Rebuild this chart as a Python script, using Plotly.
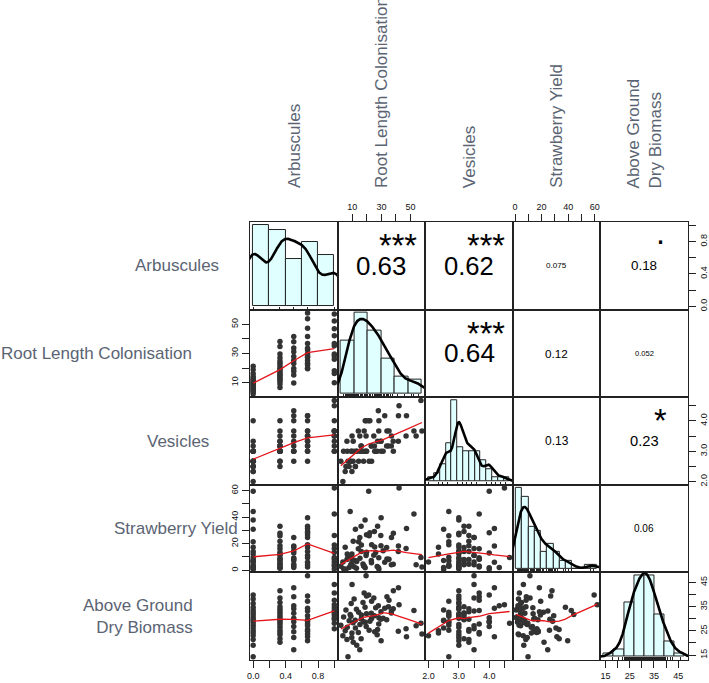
import numpy as np
import plotly.graph_objects as go

# ---------------- data, grouped by Arbuscules level ----------------
arbuscules = ([0.0] * 19 + [0.33] * 18 + [0.5] * 11 + [0.67] * 15 + [1.0] * 12)

root_length_colonisation = [
    # arbuscules = 0
    2.2, 3.6, 4.1, 5.2, 5.7, 6.4, 7.1, 7.9, 8.6, 9.3, 9.8, 10.6, 11.3, 12.2, 13.1, 14.4, 16.2, 18.8, 21.3,
    # 0.33
    6.6, 9.1, 10.7, 12.1, 12.9, 14.2, 15.3, 16.1, 17.4, 18.9, 19.8, 21.6, 23.2, 24.8, 27.1, 29.7, 34.8, 38.2,
    # 0.5
    9.7, 15.2, 17.8, 19.6, 23.1, 25.4, 27.9, 31.2, 33.8, 38.1, 41.7,
    # 0.67
    19.5, 19.8, 22.1, 23.3, 25.2, 27.4, 28.2, 29.8, 32.3, 33.6, 36.9, 41.6, 47.2, 53.8, 57.8,
    # 1
    9.9, 16.3, 18.2, 26.1, 28.3, 29.6, 35.2, 36.8, 42.1, 46.9, 52.3, 57.1,
]

vesicles = [
    2.67, 2.0, 3.0, 2.33, 2.5, 3.33, 2.67, 2.5, 2.67, 3.0, 2.33, 2.67, 3.0, 2.5, 3.0, 2.67, 3.17, 3.0, 4.0,
    3.0, 2.67, 3.33, 2.5, 3.0, 3.67, 3.0, 3.17, 3.0, 4.0, 3.0, 2.67, 3.17, 3.5, 3.0, 3.33, 3.17, 3.0,
    3.0, 3.5, 2.67, 4.0, 3.17, 3.0, 4.33, 3.0, 3.67, 3.33, 4.17,
    3.5, 3.0, 4.0, 2.67, 3.17, 3.33, 3.67, 3.0, 4.17, 3.17, 3.5, 3.33, 4.17, 3.5, 3.67,
    3.5, 3.0, 3.67, 3.0, 4.0, 3.33, 3.67, 3.17, 4.5, 3.5, 3.67, 4.67,
]

strawberry_yield = [
    3.1, 6.2, 1.2, 17.3, 0.8, 8.1, 9.8, 2.1, 44.2, 4.3, 12.3, 7.2, 2.6, 30.8, 6.6, 21.4, 14.1, 37.9, 59.5,
    12.2, 4.1, 21.8, 7.3, 1.5, 16.2, 9.1, 33.2, 4.8, 1.9, 13.6, 25.9, 5.7, 11.3, 2.9, 18.4, 8.2, 27.8,
    9.2, 24.6, 3.2, 13.1, 7.4, 17.5, 2.2, 14.7, 8.5, 4.6, 18.3,
    11.2, 26.8, 28.3, 19.3, 29.1, 33.1, 9.4, 39.6, 6.1, 17.2, 24.7, 14.2, 31.5, 4.2, 2.4,
    6.3, 19.1, 3.3, 13.4, 1.0, 26.2, 8.3, 4.1, 61.8, 16.4, 42.3, 9.6,
]

above_ground_dry_biomass = [
    27.3, 23.0, 30.7, 25.0, 33.6, 21.4, 14.3, 29.2, 31.7, 36.3, 24.1, 28.3, 38.1, 26.2, 19.1, 32.7, 29.9, 34.7, 39.8,
    26.5, 31.0, 20.3, 29.4, 33.9, 24.3, 27.6, 21.8, 36.7, 28.5, 32.0, 25.2, 30.0, 38.5, 23.4, 32.9, 34.9, 41.5,
    22.3, 17.2, 28.8, 26.8, 32.2, 24.6, 35.3, 30.2, 39.0, 34.1, 42.8,
    47.7, 39.4, 29.0, 37.2, 31.2, 25.6, 27.8, 20.9, 34.3, 29.6, 33.2, 24.8, 22.6, 27.1, 23.7,
    44.1, 31.5, 40.6, 34.5, 30.4, 29.8, 37.6, 32.4, 35.8, 25.9, 33.4, 28.1,
]

row_labels = ["Arbuscules", "Root Length Colonisation", "Vesicles", "Strawberry Yield",
              "Above Ground<br>Dry Biomass"]
hist_bin_width = [0.2, 10, 0.2, 5, 5]

tick_values = [[0, 0.2, 0.4, 0.6, 0.8, 1.0], [10, 20, 30, 40, 50], [2.0, 2.5, 3.0, 3.5, 4.0, 4.5],
               [0, 10, 20, 30, 40, 50, 60], [15, 20, 25, 30, 35, 40, 45]]
tick_labels = [["0.0", "", "0.4", "", "0.8", ""], ["10", "", "30", "", "50"],
               ["2.0", "", "3.0", "", "4.0", ""], ["0", "", "20", "", "40", "", "60"],
               ["15", "", "25", "", "35", "", "45"]]

# correlation labels and significance stars (upper panels), as printed
corr_text = {(0, 1): "0.63", (0, 2): "0.62", (0, 3): "0.075", (0, 4): "0.18", (1, 2): "0.64",
             (1, 3): "0.12", (1, 4): "0.052", (2, 3): "0.13", (2, 4): "0.23", (3, 4): "0.06"}
signif_text = {(0, 1): "***", (0, 2): "***", (0, 4): ".", (1, 2): "***", (2, 4): "*"}

data = [np.array(v, float) for v in (arbuscules, root_length_colonisation, vesicles,
                                     strawberry_yield, above_ground_dry_biomass)]
NV = 5

# ---------------- helpers ----------------
def r_lowess(x, y, f=2/3, iters=3):
    x = np.asarray(x, float); y = np.asarray(y, float)
    o = np.argsort(x, kind="stable")
    x = x[o]; y = y[o]
    n = len(x)
    delta = 0.01 * (x[-1] - x[0])
    ns = max(2, min(n, int(f * n + 1e-7)))
    ys = np.zeros(n); rw = np.ones(n)
    rng = x[-1] - x[0]

    def lowest(xs, nleft, nright, userw):
        h = max(xs - x[nleft], x[nright] - xs)
        h9, h1 = 0.999 * h, 0.001 * h
        w = np.zeros(n); a = 0.0; j = nleft
        while j < n:
            r = abs(x[j] - xs)
            if r <= h9:
                w[j] = 1.0 if r <= h1 else (1 - (r / h) ** 3) ** 3
                if userw:
                    w[j] *= rw[j]
                a += w[j]
            elif x[j] > xs:
                break
            j += 1
        nrt = j - 1
        if a <= 0:
            return None
        sl = slice(nleft, nrt + 1)
        w[sl] /= a
        if h > 0:
            a2 = np.sum(w[sl] * x[sl])
            b = xs - a2
            c = np.sum(w[sl] * (x[sl] - a2) ** 2)
            if np.sqrt(c) > 0.001 * rng:
                b /= c
                w[sl] *= (b * (x[sl] - a2) + 1)
        return np.sum(w[sl] * y[sl])

    it = 1
    while it <= iters + 1:
        nleft, nright, last, i = 0, ns - 1, -1, 0
        while True:
            if nright < n - 1:
                if x[i] - x[nleft] > x[nright + 1] - x[i]:
                    nleft += 1; nright += 1
                    continue
            val = lowest(x[i], nleft, nright, it > 1)
            ys[i] = y[i] if val is None else val
            if last < i - 1:
                denom = x[i] - x[last]
                for j in range(last + 1, i):
                    al = (x[j] - x[last]) / denom
                    ys[j] = al * ys[i] + (1 - al) * ys[last]
            last = i
            cut = x[last] + delta
            i = last + 1
            while i < n:
                if x[i] > cut:
                    break
                if x[i] == x[last]:
                    ys[i] = ys[last]; last = i
                i += 1
            i = max(last + 1, i - 1)
            if last >= n - 1:
                break
        res = y - ys
        sc = np.mean(np.abs(res))
        if it > iters:
            break
        ar = np.abs(res); srt = np.sort(ar); m1 = n // 2
        cmad = 3 * (srt[m1] + srt[n - m1 - 1]) if n % 2 == 0 else 6 * srt[m1]
        if cmad < 1e-7 * sc:
            break
        rw = np.where(ar <= 0.001 * cmad, 1.0,
                      np.where(ar <= 0.999 * cmad, (1 - (ar / cmad) ** 2) ** 2, 0.0))
        it += 1
    return x.tolist(), ys.tolist()


def r_density(v):
    n = len(v)
    sd = np.std(v, ddof=1)
    iqr = float(np.subtract(*np.percentile(v, [75, 25])))
    lo = min(sd, iqr / 1.34) if iqr > 0 else sd
    bw = 0.9 * lo * n ** (-0.2)
    g = np.linspace(v.min() - 3 * bw, v.max() + 3 * bw, 512)
    d = np.exp(-0.5 * ((g[:, None] - v[None, :]) / bw) ** 2).sum(1) / (n * bw * np.sqrt(2 * np.pi))
    return g.tolist(), d.tolist()


def padded(lo, hi):
    r = float(hi) - float(lo)
    return [float(lo) - 0.04 * r, float(hi) + 0.04 * r]


# ---------------- geometry ----------------
W, H = 709, 683
L0, T0, P = 248, 222, 88
FONT = "Liberation Sans, Arial, Helvetica, sans-serif"
LINE = "#222222"
TICKFONT = dict(size=9, family=FONT, color="#111111")


def xdom(j):
    return [(L0 + P * j) / W, (L0 + P * (j + 1)) / W]


def ydom(i):
    return [1 - (T0 + P * (i + 1)) / H, 1 - (T0 + P * i) / H]


def nm(ax, k):
    return ax if k == 1 else f"{ax}{k}"


def key(ax, k):
    return f"{ax}axis" if k == 1 else f"{ax}axis{k}"


ranges = [padded(d.min(), d.max()) for d in data]

fig = go.Figure()
layout = {}
annotations = []


def tick_cfg(var, side, vertical=False):
    d = dict(side=side, ticks="outside", ticklen=7, tickwidth=1, tickcolor=LINE,
             tickmode="array", tickvals=tick_values[var], ticktext=tick_labels[var],
             showticklabels=True, tickfont=TICKFONT)
    if vertical:
        d["tickangle"] = -90
    return d


for i in range(NV):
    for j in range(NV):
        k = i * NV + j + 1
        base_x = dict(domain=xdom(j), anchor=nm("y", k), showgrid=False, zeroline=False,
                      showline=True, mirror=True, linecolor=LINE, linewidth=1, fixedrange=True,
                      ticks="", showticklabels=False)
        base_y = dict(domain=ydom(i), anchor=nm("x", k), showgrid=False, zeroline=False,
                      showline=True, mirror=True, linecolor=LINE, linewidth=1, fixedrange=True,
                      ticks="", showticklabels=False)
        if i != j:
            base_x["range"] = ranges[j]
            base_y["range"] = ranges[i]
            if i == 0 and j % 2 == 1:
                base_x.update(tick_cfg(j, "top"))
            if i == NV - 1 and j % 2 == 0:
                base_x.update(tick_cfg(j, "bottom"))
            if j == 0 and i % 2 == 1:
                base_y.update(tick_cfg(i, "left", True))
            if j == NV - 1 and i % 2 == 0:
                base_y.update(tick_cfg(i, "right", True))
        layout[key("x", k)] = base_x
        layout[key("y", k)] = base_y

        if i > j:
            fig.add_trace(go.Scatter(x=data[j].tolist(), y=data[i].tolist(), mode="markers",
                                     marker=dict(size=5.5, color="#333333"),
                                     xaxis=nm("x", k), yaxis=nm("y", k), hoverinfo="skip"))
            lx, ly = r_lowess(data[j], data[i])
            fig.add_trace(go.Scatter(x=lx, y=ly, mode="lines", line=dict(color="#e3151a", width=1.3),
                                     xaxis=nm("x", k), yaxis=nm("y", k), hoverinfo="skip"))
        elif i == j:
            v = data[i]
            w = hist_bin_width[i]
            b0 = np.floor(v.min() / w + 1e-9) * w
            b1 = np.ceil(v.max() / w - 1e-9) * w
            breaks = np.round(np.arange(b0, b1 + w / 2, w), 10)
            idx = np.searchsorted(breaks, v, side="left") - 1
            idx[idx < 0] = 0
            counts = np.bincount(idx, minlength=len(breaks) - 1)
            dens = counts / (len(v) * w)
            mids = (breaks[:-1] + breaks[1:]) / 2
            m = float(dens.max())
            # histogram coordinates (rug = inside ticks at the data values)
            layout[key("x", k)].update(range=padded(breaks[0], breaks[-1]), ticks="inside",
                                       ticklen=3, tickwidth=1, tickcolor=LINE, tickmode="array",
                                       tickvals=v.tolist(), showticklabels=False)
            layout[key("y", k)].update(range=[-0.04 * m, 1.04 * m])
            fig.add_trace(go.Bar(x=mids.tolist(), y=dens.tolist(), width=w,
                                 marker=dict(color="#E0FFFF", line=dict(color=LINE, width=1)),
                                 xaxis=nm("x", k), yaxis=nm("y", k), hoverinfo="skip"))
            g, d = r_density(v)
            fig.add_trace(go.Scatter(x=g, y=d, mode="lines", line=dict(color="black", width=2.6),
                                     xaxis=nm("x", k), yaxis=nm("y", k), hoverinfo="skip"))
        else:
            # empty panel so that its frame and axes get drawn
            fig.add_trace(go.Scatter(x=[None], y=[None], mode="markers", xaxis=nm("x", k),
                                     yaxis=nm("y", k), hoverinfo="skip"))
            txt = corr_text[(i, j)]
            r = abs(float(txt))
            wem = sum(0.278 if c == "." else 0.556 for c in txt)
            base = 0.8 * P / wem
            annotations.append(dict(xref=f"{nm('x', k)} domain", yref=f"{nm('y', k)} domain",
                                    x=0.5, y=0.5, text=txt, showarrow=False, xanchor="center",
                                    yanchor="middle",
                                    font=dict(size=round(base * (r + 0.3) / 1.3, 1), family=FONT,
                                              color="black")))
            if (i, j) in signif_text:
                s = signif_text[(i, j)]
                annotations.append(dict(xref=f"{nm('x', k)} domain", yref=f"{nm('y', k)} domain",
                                        x=0.69, y=0.79, text=s, showarrow=False, xanchor="center",
                                        yanchor="middle", yshift=-5 if s != "." else 8,
                                        font=dict(size=round(0.9 * base, 1), family=FONT,
                                                  color="black")))

# data-scale axes for the bottom-right diagonal panel (Above Ground Dry Biomass)
kx = NV * NV + 1
layout[key("x", kx)] = dict(domain=xdom(NV - 1), anchor=nm("y", kx), range=ranges[NV - 1],
                            showgrid=False, zeroline=False, showline=False, fixedrange=True,
                            **tick_cfg(NV - 1, "bottom"))
layout[key("y", kx)] = dict(domain=ydom(NV - 1), anchor=nm("x", kx), range=ranges[NV - 1],
                            showgrid=False, zeroline=False, showline=False, fixedrange=True,
                            **tick_cfg(NV - 1, "right", True))
fig.add_trace(go.Scatter(x=[None], y=[None], mode="markers", xaxis=nm("x", kx), yaxis=nm("y", kx),
                         hoverinfo="skip"))

# variable names: top (rotated) and left
label_color = "#5b6473"
for j, lab in enumerate(row_labels):
    annotations.append(dict(xref="paper", yref="paper", x=(L0 + P * j + P / 2) / W, y=1 - 190 / H,
                            text=lab, textangle=-90, showarrow=False, xanchor="center",
                            yanchor="bottom", align="left",
                            font=dict(size=17, family=FONT, color=label_color)))
left_pos = [(175, "center"), (192, "right"), (175.5, "center"), (174, "center"), (193, "right")]
for i, lab in enumerate(row_labels):
    xp, anc = left_pos[i]
    annotations.append(dict(xref="paper", yref="paper", x=xp / W, y=1 - (T0 + P * i + P / 2) / H,
                            text=lab, showarrow=False, xanchor=anc, yanchor="middle",
                            align="right" if anc == "right" else "center",
                            font=dict(size=17, family=FONT, color=label_color)))

fig.update_layout(**layout)
fig.update_layout(width=W, height=H, margin=dict(l=0, r=0, t=0, b=0), showlegend=False,
                  paper_bgcolor="white", plot_bgcolor="rgba(0,0,0,0)", bargap=0,
                  annotations=annotations, font=dict(family=FONT))
fig.write_html("out.html", config={"displayModeBar": False},
               post_script="document.body.style.margin='0px';document.body.style.padding='0px';")
